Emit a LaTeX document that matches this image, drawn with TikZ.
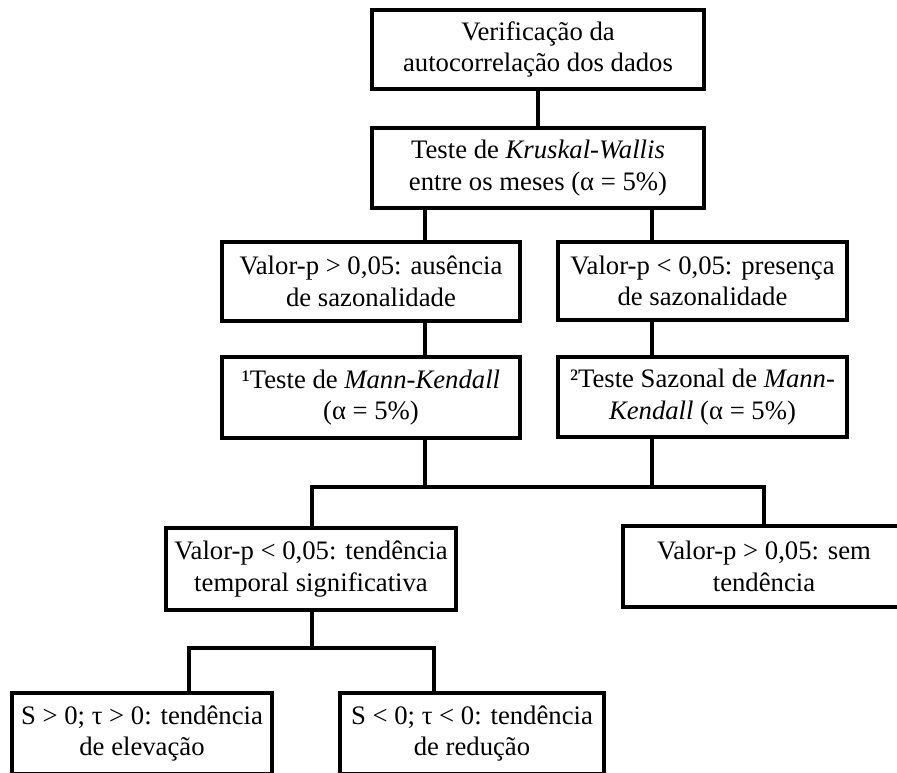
\documentclass[tikz,border=0pt]{standalone}
\usepackage{fontspec}
\setmainfont{Liberation Serif}
\begin{document}
\begin{tikzpicture}[x=1pt,y=-1pt,
  box/.style={draw=black, line width=3.8pt, rectangle, inner sep=0pt, align=center,
    font=\fontsize{26.7}{31.5}\selectfont},
  conn/.style={draw=black, line width=3.8pt, line cap=rect}]
\path[use as bounding box, clip] (0,0) rectangle (897,772);
\fill[white] (0,0) rectangle (897,772);
\node[box, minimum width=332pt, minimum height=79pt] (b1) at (538,49.5) {Verificação da\\autocorrelação dos dados};
\node[box, minimum width=332pt, minimum height=80pt] (b2) at (538,168) {Teste de \textit{Kruskal-Wallis}\\entre os meses (α = 5\%)};
\node[box, minimum width=298pt, minimum height=79pt] (b3) at (371,281.5) {Valor-p > 0,05: ausência\\de sazonalidade};
\node[box, minimum width=289pt, minimum height=78pt] (b4) at (702.5,281) {Valor-p < 0,05: presença\\de sazonalidade};
\node[box, minimum width=298pt, minimum height=81pt] (b5) at (371,397.5) {¹Teste de \textit{Mann-Kendall}\\(α = 5\%)};
\node[box, minimum width=289pt, minimum height=80pt] (b6) at (702.5,397) {²Teste Sazonal de \textit{Mann-}\\\textit{Kendall} (α = 5\%)};
\node[box, minimum width=290pt, minimum height=82pt] (b7) at (311,569) {Valor-p < 0,05: tendência\\temporal significativa};
\node[box, minimum width=282pt, minimum height=81pt] (b8) at (764,566.5) {Valor-p > 0,05: sem\\tendência};
\node[box, minimum width=260pt, minimum height=81pt] (b9) at (142,733.5) {S > 0; τ > 0: tendência\\de elevação};
\node[box, minimum width=264pt, minimum height=81pt] (b10) at (472,733.5) {S < 0; τ < 0: tendência\\de redução};
% junction coordinates
\coordinate (xa) at (425,0);
\coordinate (xb) at (652,0);
\coordinate (ja) at (312,487);
\coordinate (jb) at (764,487);
\coordinate (jc) at (189,648);
\coordinate (jd) at (434,648);
% connectors
\draw[line width=3.8pt] (b1.south) -- (b2.north);
\draw[line width=3.8pt] (b2.south -| xa) -- (b3.north -| xa);
\draw[line width=3.8pt] (b2.south -| xb) -- (b4.north -| xb);
\draw[line width=3.8pt] (b3.south -| xa) -- (b5.north -| xa);
\draw[line width=3.8pt] (b4.south -| xb) -- (b6.north -| xb);
\draw[line width=3.8pt] (b5.south -| xa) -- (ja -| xa);
\draw[line width=3.8pt] (b6.south -| xb) -- (ja -| xb);
\draw[line width=3.8pt] (b7.north -| ja) -- (ja) -- (jb) -- (b8.north -| jb);
\draw[line width=3.8pt] (b7.south -| ja) -- (jc -| ja);
\draw[line width=3.8pt] (b9.north -| jc) -- (jc) -- (jd) -- (b10.north -| jd);
\end{tikzpicture}
\end{document}
